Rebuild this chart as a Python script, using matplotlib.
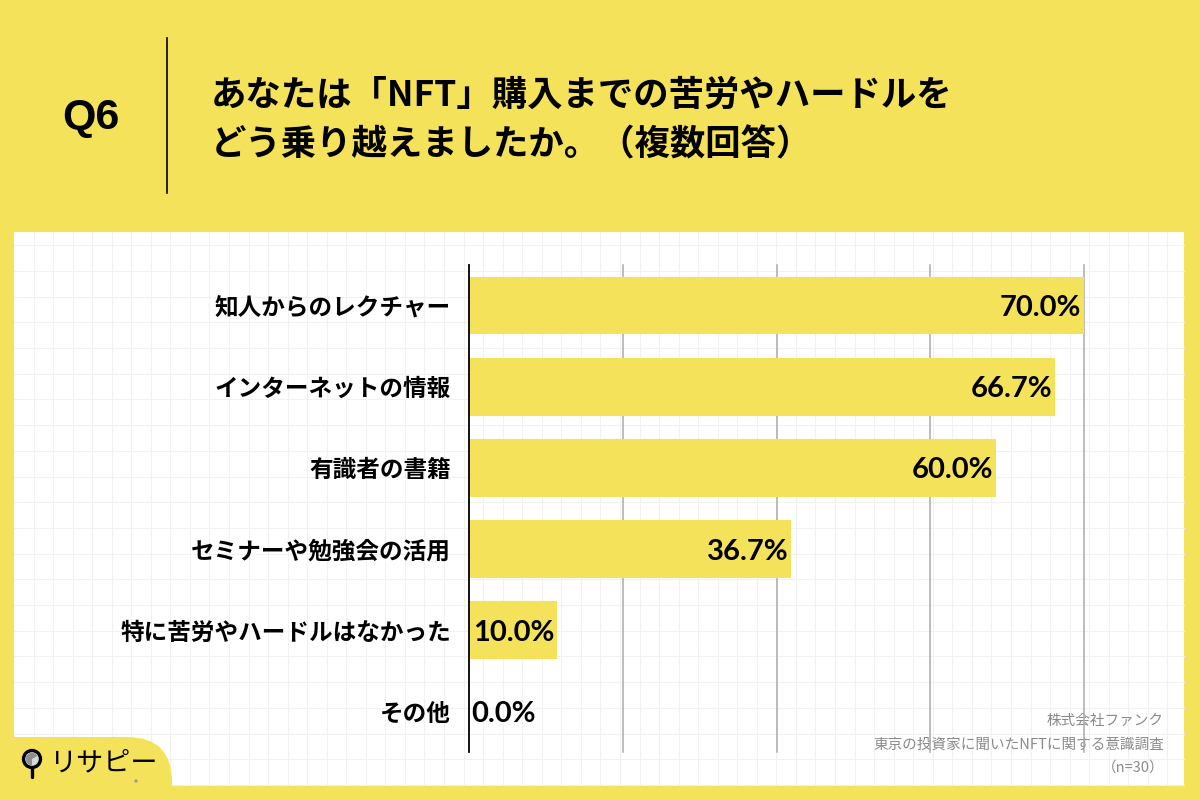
import matplotlib
matplotlib.use("Agg")
import matplotlib.pyplot as plt
from matplotlib.patches import Rectangle, FancyBboxPatch, Circle, Wedge
import numpy as np

# ---- data ----
categories = ["知人からのレクチャー", "インターネットの情報", "有識者の書籍",
              "セミナーや勉強会の活用", "特に苦労やハードルはなかった", "その他"]
values = [70.0, 66.7, 60.0, 36.7, 10.0, 0.0]
title_q = "Q6"
title_lines = ["あなたは「NFT」購入までの苦労やハードルを",
               "どう乗り越えましたか。（複数回答）"]
footer_lines = ["株式会社ファンク", "東京の投資家に聞いたNFTに関する意識調査", "（n=30）"]
logo_text = "リサピー"

YELLOW = "#F5E25B"
JP = ["Noto Sans CJK JP", "DejaVu Sans"]
plt.rcParams['font.family'] = JP

fig = plt.figure(figsize=(12, 8), dpi=100, facecolor=YELLOW)

# background axes in pixel coordinates
bg = fig.add_axes([0, 0, 1, 1], zorder=0)
bg.set_xlim(0, 1200)
bg.set_ylim(800, 0)
bg.axis("off")
bg.patch.set_alpha(0)

# white panel
px0, px1, py0, py1 = 14, 1184, 232, 785
bg.add_patch(Rectangle((px0, py0), px1 - px0, py1 - py0, facecolor="white", edgecolor="none", zorder=1))
# faint grid pattern
for x in np.arange(px0 + 19.5, px1, 19.55):
    bg.plot([x, x], [py0, py1], color="#F1F1F1", lw=0.8, zorder=2)
for y in np.arange(py0 + 13.3, py1, 25.7):
    bg.plot([px0, px1], [y, y], color="#F1F1F1", lw=0.8, zorder=2)

# logo yellow shape
bg.add_patch(FancyBboxPatch((-60, 737), 232, 120, boxstyle="round,pad=0,rounding_size=45",
                            facecolor=YELLOW, edgecolor="none", zorder=3))
# logo pin icon
bg.add_patch(Circle((32, 759), 8.5, facecolor="#D8D8D8", edgecolor="black", lw=2.4, zorder=4))
bg.add_patch(Wedge((32, 759), 6.2, 90, 330, facecolor="#8E8E8E", edgecolor="none", zorder=5))
bg.plot([32, 32], [768.5, 777], color="black", lw=2.4, zorder=4, solid_capstyle="round")
bg.text(49, 763, logo_text, fontsize=19.5, color="black", ha="left", va="center",
        family=JP, zorder=5)
bg.add_patch(Circle((136, 781), 1.6, facecolor="#999999", edgecolor="none", zorder=5))

# title
bg.text(91, 118, title_q, fontsize=31, fontweight="bold", family=["Liberation Sans", "DejaVu Sans"],
        ha="center", va="center", color="black")
bg.plot([167, 167], [38, 193], color="black", lw=1.2)
bg.text(211, 95, title_lines[0], fontsize=25.5, fontweight="bold", ha="left", va="center", family=JP)
bg.text(211, 145, title_lines[1], fontsize=25.5, fontweight="bold", ha="left", va="center", family=JP)

# footer
for i, t in enumerate(footer_lines):
    bg.text(1164, 721 + i * 23.5, t, fontsize=10.5, color="#8A8A8A", ha="right", va="center", family=JP, zorder=6)

# main chart axes
ax = fig.add_axes([469 / 1200, 1 - 752 / 800, 615 / 1200, 487 / 800], zorder=2)
ax.patch.set_alpha(0)
y = np.arange(len(categories))
ax.barh(y, values, height=0.71, color=YELLOW, zorder=2)
ax.set_xlim(0, 70)
ax.set_ylim(len(categories) - 0.5, -0.5)
ax.set_xticks([17.5, 35, 52.5, 70])
ax.xaxis.grid(True, color="#ABABAB", lw=1.1, zorder=0)
ax.set_axisbelow(True)
ax.tick_params(axis="x", length=0, labelbottom=False)
ax.tick_params(axis="y", length=0, pad=13)
ax.set_yticks(y)
ax.set_yticklabels(categories, fontsize=17, fontweight="bold", family=JP)
for s in ["top", "right", "bottom"]:
    ax.spines[s].set_visible(False)
ax.spines["left"].set_color("black")
ax.spines["left"].set_linewidth(1.3)
ax.spines["left"].set_zorder(5)
for g in ax.get_xgridlines():
    g.set_clip_on(False)

for yi, v in zip(y, values):
    lab = f"{v:.1f}%"
    if v > 0:
        ax.text(v - 0.3, yi + 0.03, lab, ha="right", va="center", fontsize=21, fontweight="bold",
                family=["Lato", "DejaVu Sans"], zorder=4)
    else:
        ax.text(0.2, yi + 0.03, lab, ha="left", va="center", fontsize=21, fontweight="bold",
                family=["Lato", "DejaVu Sans"], zorder=4)

fig.savefig("out.png", dpi=100, facecolor=YELLOW)
